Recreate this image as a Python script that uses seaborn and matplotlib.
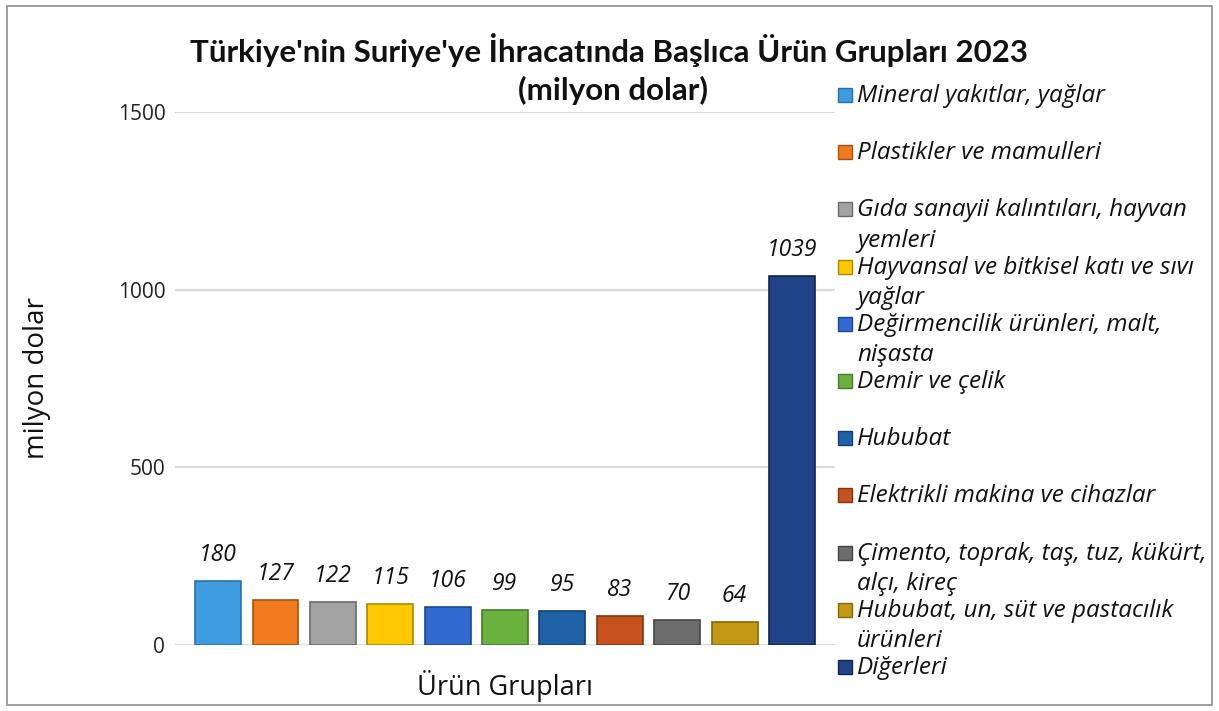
import matplotlib
matplotlib.use("Agg")
import matplotlib.pyplot as plt
import seaborn as sns
import pandas as pd
from matplotlib.patches import Rectangle

# Veriler
urunler = [
    "Mineral yakıtlar, yağlar",
    "Plastikler ve mamulleri",
    "Gıda sanayii kalıntıları, hayvan\nyemleri",
    "Hayvansal ve bitkisel katı ve sıvı\nyağlar",
    "Değirmencilik ürünleri, malt,\nnişasta",
    "Demir ve çelik",
    "Hububat",
    "Elektrikli makina ve cihazlar",
    "Çimento, toprak, taş, tuz, kükürt,\nalçı, kireç",
    "Hububat, un, süt ve pastacılık\nürünleri",
    "Diğerleri",
]
degerler = [180, 127, 122, 115, 106, 99, 95, 83, 70, 64, 1039]
renkler = ["#3F9BE0", "#F07A1C", "#A3A3A3", "#FFC800", "#2F6AD0", "#6AB23E",
           "#1F61A6", "#C5511C", "#6C6C6C", "#C39813", "#1E4386"]
kenar = ["#2A6FA8", "#A8520F", "#6A6A6A", "#A88A00", "#1D4690", "#477A28",
         "#123F70", "#84350F", "#444444", "#85660A", "#10264F"]
y_ticks = [0, 500, 1000, 1500]

df = pd.DataFrame({"urun": urunler, "deger": degerler})

sns.set_theme(style="white")
plt.rcParams["font.family"] = ["Open Sans", "DejaVu Sans"]

fig = plt.figure(figsize=(12.19, 7.11), dpi=100)
ax = fig.add_axes([0.1436, 0.0928, 0.5414, 0.7497])

sns.barplot(data=df, x="urun", y="deger", hue="urun", palette=renkler,
            legend=False, width=0.8, ax=ax, saturation=1)

for bar, ec in zip(ax.patches, kenar):
    bar.set_edgecolor(ec)
    bar.set_linewidth(1.2)

# Değer etiketleri
for bar, v in zip(ax.patches, degerler):
    ax.annotate(str(v), (bar.get_x() + bar.get_width() / 2, bar.get_height()),
                xytext=(0, 10), textcoords="offset points", ha="center",
                va="bottom", fontsize=16.5, style="italic", color="#111111")

ax.set_xlim(-0.75, 10.75)
ax.set_ylim(0, 1500)
ax.set_yticks(y_ticks)
ax.set_xticks([])
ax.tick_params(axis="y", labelsize=15, length=0, pad=7, colors="#222222")
ax.yaxis.grid(True, color="#D9D9D9", linewidth=1.5)
ax.set_axisbelow(True)
for s in ax.spines.values():
    s.set_visible(False)

ax.set_ylabel("milyon dolar", fontsize=20, labelpad=48, color="#111111")
ax.set_xlabel("Ürün Grupları", fontsize=19.5, labelpad=18, color="#111111")

fig.text(0.5, 0.93, "Türkiye'nin Suriye'ye İhracatında Başlıca Ürün Grupları 2023",
         ha="center", va="center", fontsize=22.5, fontweight="bold",
         color="#111111", family=["Lato", "DejaVu Sans"])
fig.text(0.503, 0.873, "(milyon dolar)", ha="center", va="center",
         fontsize=22.5, fontweight="bold", color="#111111",
         family=["Lato", "DejaVu Sans"])

# Lejant
y0 = 1 - 95 / 711
adim = 57.2 / 711
for i, (ad, renk, ec) in enumerate(zip(urunler, renkler, kenar)):
    yy = y0 - i * adim
    fig.add_artist(Rectangle((838 / 1219, yy - 7 / 711), 14 / 1219, 14 / 711,
                             transform=fig.transFigure, facecolor=renk,
                             edgecolor=ec, linewidth=1))
    fig.text(857 / 1219, yy + 11 / 711, ad, ha="left", va="top", fontsize=17.5,
             style="italic", color="#111111", linespacing=1.35)

# Çerçeve
fig.add_artist(Rectangle((0.006, 0.008), 0.988, 0.984, transform=fig.transFigure,
                         fill=False, edgecolor="#8C8C8C", linewidth=1.2))

fig.savefig("out.png", dpi=100)
